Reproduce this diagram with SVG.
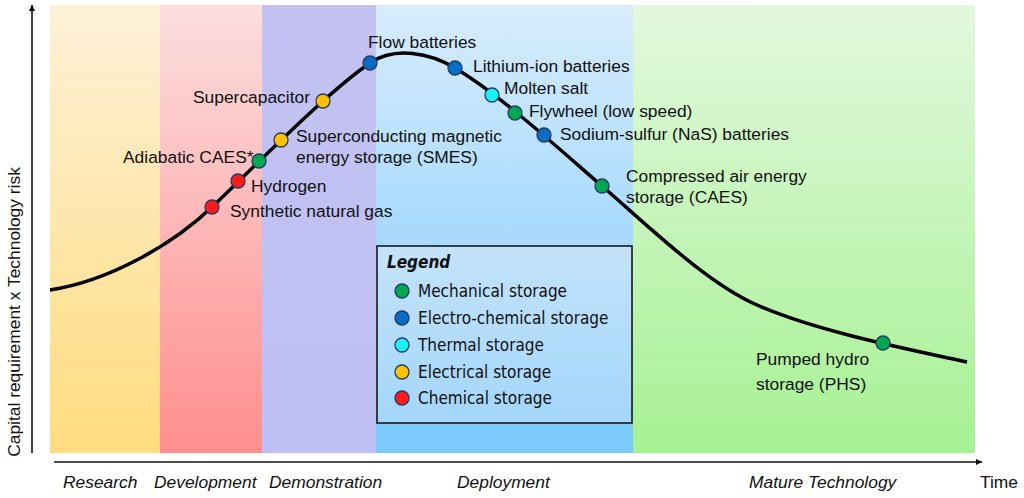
<svg xmlns="http://www.w3.org/2000/svg" width="1024" height="498" viewBox="0 0 1024 498">
<defs>
<linearGradient id="gRes" x1="0" y1="0" x2="0" y2="1"><stop offset="0" stop-color="#fdf1d8"/><stop offset="1" stop-color="#ffdc7e"/></linearGradient>
<linearGradient id="gDev" x1="0" y1="0" x2="0" y2="1"><stop offset="0" stop-color="#fcdede"/><stop offset="1" stop-color="#ff8e8e"/></linearGradient>
<linearGradient id="gDem" x1="0" y1="0" x2="0" y2="1"><stop offset="0" stop-color="#c4c2f1"/><stop offset="1" stop-color="#bfbff5"/></linearGradient>
<linearGradient id="gDep" x1="0" y1="0" x2="0" y2="1"><stop offset="0" stop-color="#d8ecfc"/><stop offset="1" stop-color="#7ac9fe"/></linearGradient>
<linearGradient id="gMat" x1="0" y1="0" x2="0" y2="1"><stop offset="0" stop-color="#e3f8de"/><stop offset="1" stop-color="#a6f193"/></linearGradient>
<linearGradient id="gLeg" x1="0" y1="0" x2="0" y2="1"><stop offset="0" stop-color="#c4e3fa"/><stop offset="1" stop-color="#a3d6fb"/></linearGradient>
<marker id="arr" viewBox="0 0 10 10" refX="10" refY="5" markerWidth="6" markerHeight="6" markerUnits="userSpaceOnUse" orient="auto"><path d="M0,0 L10,5 L0,10 z" fill="#000"/></marker>
</defs>
<style>
.lbl{font-family:"Liberation Sans",Arial,sans-serif;font-size:17.4px;fill:#111}
.phase{font-family:"Liberation Sans",Arial,sans-serif;font-size:17.4px;font-style:italic;fill:#111}
.leg{font-family:"DejaVu Sans Condensed","DejaVu Sans",sans-serif;font-stretch:condensed;font-size:17px;fill:#111}
.legt{font-family:"DejaVu Sans Condensed","DejaVu Sans",sans-serif;font-stretch:condensed;font-size:17px;font-weight:bold;font-style:italic;fill:#111}
.dot{stroke:#1f3b66;stroke-width:1.3}
.mech{fill:#00a94f}
.elch{fill:#0a6cc2}
.therm{fill:#18f2f5}
.elec{fill:#ffc000}
.chem{fill:#ff1a1a}
.axis{stroke:#111;stroke-width:1.6;fill:none}
</style>
<g id="bands">
<rect x="50" y="5" width="110" height="448" fill="url(#gRes)"/>
<rect x="160" y="5" width="102" height="448" fill="url(#gDev)"/>
<rect x="262" y="5" width="114" height="448" fill="url(#gDem)"/>
<rect x="376" y="5" width="257" height="448" fill="url(#gDep)"/>
<rect x="633" y="5" width="342" height="448" fill="url(#gMat)"/>
</g>
<g id="axes">
<line class="axis" x1="32" y1="453" x2="32" y2="5" marker-end="url(#arr)"/>
<line class="axis" x1="54" y1="462" x2="982" y2="462" marker-end="url(#arr)"/>
<text class="lbl" font-size="17" text-anchor="middle" transform="translate(19.5,312) rotate(-90)">Capital requirement x Technology risk</text>
<text class="phase" x="63" y="488">Research</text>
<text class="phase" x="154" y="488">Development</text>
<text class="phase" x="269" y="488">Demonstration</text>
<text class="phase" x="457" y="488">Deployment</text>
<text class="phase" x="749" y="488">Mature Technology</text>
<text class="lbl" x="980" y="488">Time</text>
</g>
<g id="legend">
<rect x="377" y="246" width="255" height="177" fill="url(#gLeg)" stroke="#1a1a1a" stroke-width="1.6"/>
<text class="legt" x="387" y="268">Legend</text>
<circle class="dot mech" cx="402" cy="291" r="7"/><text class="leg" x="418" y="297">Mechanical storage</text>
<circle class="dot elch" cx="402" cy="318" r="7"/><text class="leg" x="418" y="324">Electro-chemical storage</text>
<circle class="dot therm" cx="402" cy="345" r="7"/><text class="leg" x="418" y="351">Thermal storage</text>
<circle class="dot elec" cx="402" cy="372" r="7"/><text class="leg" x="418" y="378">Electrical storage</text>
<circle class="dot chem" cx="402" cy="398" r="7"/><text class="leg" x="418" y="404">Chemical storage</text>
</g>
<g id="connectors">
<path d="M50,290 C110,281 174,243.5 212,207 C262,159 330,90 370,63 C395,46 430,53 455,68 C500,95 557,147 602,186 C652,229.3 707,283 757,305 C817,331.4 907,349 967,362" fill="none" stroke="#000" stroke-width="3.5"/>
</g>
<g id="snG"><circle class="dot chem" cx="212" cy="207" r="7"/><text class="lbl" x="230" y="217">Synthetic natural gas</text></g>
<g id="hydrogen"><circle class="dot chem" cx="238" cy="181" r="7"/><text class="lbl" x="251" y="192">Hydrogen</text></g>
<g id="adiabaticCaes"><circle class="dot mech" cx="259" cy="161" r="7"/><text class="lbl" x="123" y="163">Adiabatic CAES*</text></g>
<g id="smes"><circle class="dot elec" cx="281" cy="140" r="7"/><text class="lbl" x="296" y="142">Superconducting magnetic</text><text class="lbl" x="296" y="163">energy storage (SMES)</text></g>
<g id="supercap"><circle class="dot elec" cx="323" cy="101" r="7"/><text class="lbl" x="193" y="103">Supercapacitor</text></g>
<g id="flow"><circle class="dot elch" cx="370" cy="63" r="7"/><text class="lbl" x="368" y="48">Flow batteries</text></g>
<g id="liion"><circle class="dot elch" cx="455" cy="68" r="7"/><text class="lbl" x="473" y="72">Lithium-ion batteries</text></g>
<g id="molten"><circle class="dot therm" cx="492" cy="95" r="7"/><text class="lbl" x="504" y="94">Molten salt</text></g>
<g id="flywheel"><circle class="dot mech" cx="515" cy="113" r="7"/><text class="lbl" x="529" y="117">Flywheel (low speed)</text></g>
<g id="nas"><circle class="dot elch" cx="544" cy="135" r="7"/><text class="lbl" x="560" y="140">Sodium-sulfur (NaS) batteries</text></g>
<g id="caes"><circle class="dot mech" cx="602" cy="186" r="7"/><text class="lbl" x="626" y="182">Compressed air energy</text><text class="lbl" x="626" y="203">storage (CAES)</text></g>
<g id="phs"><circle class="dot mech" cx="883" cy="343" r="7"/><text class="lbl" x="756" y="365">Pumped hydro</text><text class="lbl" x="756" y="390">storage (PHS)</text></g>
</svg>
